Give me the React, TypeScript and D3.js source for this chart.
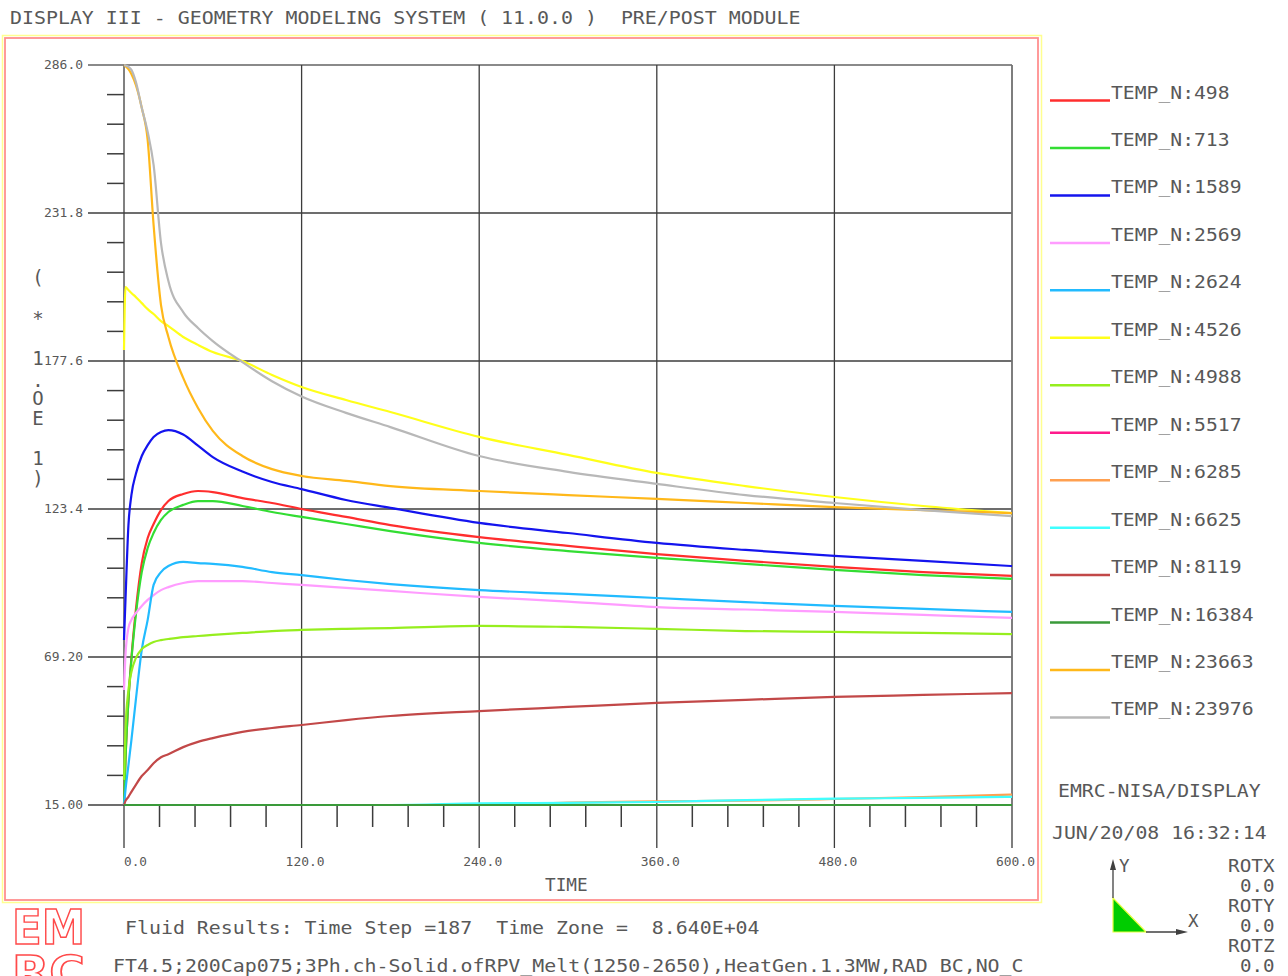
import React from 'react';
import * as d3 from 'd3';

const TIME = [0, 1, 3, 5, 8, 12, 16, 20, 25, 30, 40, 50, 60, 80, 100, 120, 150, 180, 240, 300, 360, 420, 480, 540, 600];

const N498 = [15.0, 31.5, 53.5, 68.8, 86.4, 103.6, 112.8, 117.9, 123.0, 126.3, 128.9, 130.0, 129.6, 127.4, 125.6, 123.4, 120.5, 117.5, 113.1, 109.9, 106.9, 104.4, 102.2, 100.3, 98.9];
const N713 = [15.0, 31.5, 53.5, 68.1, 84.6, 100.3, 109.1, 114.6, 119.4, 122.3, 124.9, 126.3, 126.3, 124.5, 122.3, 120.5, 117.9, 115.3, 111.0, 108.0, 105.5, 103.3, 101.1, 99.2, 97.8];
const N1589 = [75.4, 90.1, 117.5, 128.5, 136.2, 142.8, 146.8, 149.8, 151.6, 152.3, 150.7, 146.6, 142.4, 137.1, 133.3, 130.7, 126.7, 123.8, 118.3, 114.6, 111.0, 108.4, 106.2, 104.4, 102.5];
const N2569 = [57.1, 69.9, 79.8, 82.8, 85.3, 87.9, 90.1, 91.9, 93.7, 94.8, 96.3, 97.0, 97.0, 97.0, 96.3, 95.6, 94.5, 93.4, 91.2, 89.5, 87.5, 86.6, 85.7, 84.6, 83.5];
const N2624 = [15.0, 20.5, 29.6, 38.8, 53.5, 71.8, 82.8, 95.6, 100.3, 102.5, 104.0, 103.6, 103.3, 102.2, 100.3, 99.2, 97.4, 95.9, 93.7, 92.3, 90.8, 89.3, 87.9, 86.8, 85.7];
const N4526 = [181.6, 204.7, 203.6, 202.5, 201.0, 198.8, 196.6, 194.8, 192.2, 190.4, 186.4, 183.5, 180.9, 177.6, 172.5, 168.1, 163.3, 158.9, 149.8, 143.2, 136.6, 131.8, 127.8, 124.5, 121.9];
const N4988 = [24.2, 42.5, 57.1, 63.7, 68.8, 72.1, 73.6, 74.7, 75.4, 75.8, 76.5, 76.9, 77.3, 78.0, 78.7, 79.1, 79.5, 79.8, 80.6, 80.2, 79.5, 78.7, 78.4, 78.0, 77.6];
const N5517 = [15.0, 15.0, 15.0, 15.0, 15.0, 15.0, 15.0, 15.0, 15.0, 15.0, 15.0, 15.0, 15.0, 15.0, 15.0, 15.0, 15.0, 15.0, 15.0, 15.0, 15.0, 15.0, 15.0, 15.0, 15.0];
const N6285 = [15.0, 15.0, 15.0, 15.0, 15.0, 15.0, 15.0, 15.0, 15.0, 15.0, 15.0, 15.0, 15.0, 15.0, 15.0, 15.0, 15.0, 15.0, 15.0, 15.9, 16.3, 16.6, 17.2, 17.9, 18.8];
const N6625 = [15.0, 15.0, 15.0, 15.0, 15.0, 15.0, 15.0, 15.0, 15.0, 15.0, 15.0, 15.0, 15.0, 15.0, 15.0, 15.0, 15.0, 15.0, 15.6, 15.8, 16.1, 16.8, 17.3, 17.6, 18.0];
const N8119 = [15.0, 16.5, 18.0, 19.8, 22.4, 25.6, 27.8, 30.3, 32.5, 33.6, 36.2, 38.1, 39.5, 41.8, 43.2, 44.3, 46.1, 47.6, 49.4, 50.9, 52.4, 53.5, 54.6, 55.3, 56.0];
const N16384 = [15.0, 15.0, 15.0, 15.0, 15.0, 15.0, 15.0, 15.0, 15.0, 15.0, 15.0, 15.0, 15.0, 15.0, 15.0, 15.0, 15.0, 15.0, 15.0, 15.0, 15.0, 15.0, 15.0, 15.0, 15.0];
const N23663 = [286.0, 285.6, 284.5, 282.7, 278.7, 270.3, 258.5, 227.4, 198.1, 186.4, 171.4, 160.4, 152.0, 142.8, 138.0, 135.5, 133.7, 131.8, 130.0, 128.5, 127.1, 125.6, 124.1, 123.0, 121.9];
const N23976 = [286.0, 285.8, 285.3, 284.2, 279.8, 270.3, 261.5, 249.4, 220.8, 206.9, 195.5, 189.7, 184.9, 177.2, 170.2, 164.6, 158.6, 153.4, 142.8, 137.0, 132.6, 128.5, 125.6, 123.0, 120.8];

const SERIES_NAMES = ['TEMP_N:498', 'TEMP_N:713', 'TEMP_N:1589', 'TEMP_N:2569', 'TEMP_N:2624', 'TEMP_N:4526', 'TEMP_N:4988', 'TEMP_N:5517', 'TEMP_N:6285', 'TEMP_N:6625', 'TEMP_N:8119', 'TEMP_N:16384', 'TEMP_N:23663', 'TEMP_N:23976'];
const SERIES_VALUES = [N498, N713, N1589, N2569, N2624, N4526, N4988, N5517, N6285, N6625, N8119, N16384, N23663, N23976];
const SERIES_COLORS = ['#ff2e2e', '#33dd33', '#1414ee', '#ff9cff', '#22bbff', '#ffff1a', '#96ee1e', '#ff1a8c', '#ffa050', '#40ffff', '#c24848', '#3a9a3a', '#ffb81a', '#b8b8b8'];

const X_MAJOR = [0, 120, 240, 360, 480, 600];
const X_LABELS = ['0.0', '120.0', '240.0', '360.0', '480.0', '600.0'];
const Y_MAJOR = [15, 69.2, 123.4, 177.6, 231.8, 286];
const Y_LABELS = ['15.00', '69.20', '123.4', '177.6', '231.8', '286.0'];

const TITLE = 'DISPLAY III - GEOMETRY MODELING SYSTEM ( 11.0.0 )  PRE/POST MODULE';
const FOOT1 = 'Fluid Results: Time Step =187  Time Zone =  8.640E+04';
const FOOT2 = 'FT4.5;200Cap075;3Ph.ch-Solid.ofRPV_Melt(1250-2650),HeatGen.1.3MW,RAD BC,NO_C';
const Y_AXIS_CHARS = ['(', '*', '1', '.', 'O', 'E', '1', ')'];
const Y_AXIS_CHAR_POS = [277, 318, 358, 380, 398, 418, 458, 478];
const ROT_LABELS = ['ROTX', '0.0', 'ROTY', '0.0', 'ROTZ', '0.0'];

const FONT = "'DejaVu Sans Mono', 'Liberation Mono', monospace";
const TXT = '#585858';

function MonoText({ x, y, s, size = 18, cw = 12, anchor = 'start', fill = TXT }: any) {
  const len = s.length * cw;
  let x0 = x;
  if (anchor === 'end') x0 = x - len;
  if (anchor === 'middle') x0 = x - len / 2;
  return (
    <text x={x0} y={y} fontFamily={FONT} fontSize={size} fill={fill} xmlSpace="preserve"
      style={{ whiteSpace: 'pre' }}
      textLength={len - cw * 0.12} lengthAdjust="spacingAndGlyphs">{s}</text>
  );
}

export default function App() {
  const x = d3.scaleLinear().domain([0, 600]).range([124, 1012]);
  const y = d3.scaleLinear().domain([15, 286]).range([805, 65]);

  const line = d3.line<number>()
    .x((_, i) => x(TIME[i]))
    .y((v) => y(v))
    .curve(d3.curveMonotoneX);

  const xMinor = d3.range(0, 600.001, 24).filter((t) => !X_MAJOR.includes(Math.round(t)));
  const yMinor = d3.range(15, 286.001, 10.84).filter((_, i) => i % 5 !== 0);

  const gridColor = '#3c3c3c';

  return (
    <svg width={1288} height={976} style={{ position: 'absolute', left: 0, top: 0, background: '#fff' }}>
      <rect x={0} y={0} width={1288} height={976} fill="#fff" />
      <MonoText x={10} y={23.5} s={TITLE} />

      {/* frame */}
      <rect x={2.5} y={35.5} width={1039} height={867} fill="none" stroke="#ffff90" strokeWidth={1.5} />
      <rect x={5} y={38} width={1033} height={862} fill="none" stroke="#ff9090" strokeWidth={1.8} />

      {/* y grid & ticks */}
      {Y_MAJOR.map((v, i) => (
        <g key={'ym' + i}>
          <line x1={88} x2={1012} y1={y(v)} y2={y(v)} stroke={i === Y_MAJOR.length - 1 ? '#8a8a8a' : gridColor}
            strokeWidth={i === Y_MAJOR.length - 1 ? 2.2 : 1.3} />
          <MonoText x={84} y={y(v) + 4} s={Y_LABELS[i]} size={11.5} cw={8} anchor="end" />
        </g>
      ))}
      {yMinor.map((v, i) => (
        <line key={'yn' + i} x1={107} x2={124} y1={y(v)} y2={y(v)} stroke={gridColor} strokeWidth={1.5} />
      ))}

      {/* x grid & ticks */}
      {X_MAJOR.map((t, i) => (
        <g key={'xm' + i}>
          <line x1={x(t)} x2={x(t)} y1={65} y2={848} stroke={i === X_MAJOR.length - 1 ? '#707070' : gridColor}
            strokeWidth={i === X_MAJOR.length - 1 ? 1.8 : 1.3} />
          <MonoText x={x(t) + 24} y={866} s={X_LABELS[i]} size={11.5} cw={8} anchor="end" />
        </g>
      ))}
      {xMinor.map((t, i) => (
        <line key={'xn' + i} x1={x(t)} x2={x(t)} y1={805} y2={827} stroke={gridColor} strokeWidth={1.5} />
      ))}

      {/* series */}
      {SERIES_VALUES.map((vals, i) => (
        <path key={'s' + i} d={line(vals) || ''} fill="none" stroke={SERIES_COLORS[i]} strokeWidth={2.2}
          strokeLinejoin="round" />
      ))}

      {/* axis labels */}
      <MonoText x={567} y={891} s="TIME" size={17} cw={11} anchor="middle" />
      {Y_AXIS_CHARS.map((c, i) => (
        <text key={'ya' + i} x={38} y={Y_AXIS_CHAR_POS[i] + 7} fontFamily={FONT} fontSize={19} fill={TXT}
          textAnchor="middle">{c}</text>
      ))}

      {/* legend */}
      {SERIES_NAMES.map((n, i) => {
        const cy = 92 + i * 47.46;
        return (
          <g key={'lg' + i}>
            <line x1={1050} x2={1110} y1={cy + 8.5} y2={cy + 8.5} stroke={SERIES_COLORS[i]} strokeWidth={2.5} />
            <MonoText x={1111} y={cy + 6.5} s={n} />
          </g>
        );
      })}

      {/* bottom right info */}
      <MonoText x={1058} y={796.5} s="EMRC-NISA/DISPLAY" />
      <MonoText x={1052} y={838.5} s="JUN/20/08 16:32:14" />
      {ROT_LABELS.map((s, i) => (
        <MonoText key={'rot' + i} x={1276} y={871.5 + i * 20} s={s} anchor="end" />
      ))}

      {/* triad */}
      <polygon points="1113,898 1113,932 1146,932" fill="#00cc00" stroke="#e8ff40" strokeWidth={1.2} />
      <line x1={1113} x2={1113} y1={898} y2={866} stroke="#404040" strokeWidth={1.3} />
      <polygon points="1113,859 1110,870 1116,870" fill="#404040" />
      <line x1={1146} x2={1182} y1={932} y2={932} stroke="#404040" strokeWidth={1.3} />
      <polygon points="1188,932 1176,929 1176,935" fill="#404040" />
      <MonoText x={1119} y={872} s="Y" />
      <MonoText x={1188} y={927} s="X" />

      {/* footer */}
      <MonoText x={125} y={933.5} s={FOOT1} />
      <MonoText x={113} y={971.5} s={FOOT2} />

      {/* EMRC logo */}
      <text x={12} y={944} fontFamily="'DejaVu Sans Condensed', 'DejaVu Sans', sans-serif" fontWeight="bold" fontSize={48}
        fill="#fff" stroke="#ff4a4a" strokeWidth={1.4} textLength={73} lengthAdjust="spacingAndGlyphs">EM</text>
      <text x={12} y={988} fontFamily="'DejaVu Sans Condensed', 'DejaVu Sans', sans-serif" fontWeight="bold" fontSize={44}
        fill="#fff" stroke="#ff4a4a" strokeWidth={1.4} textLength={73} lengthAdjust="spacingAndGlyphs">RC</text>
    </svg>
  );
}
